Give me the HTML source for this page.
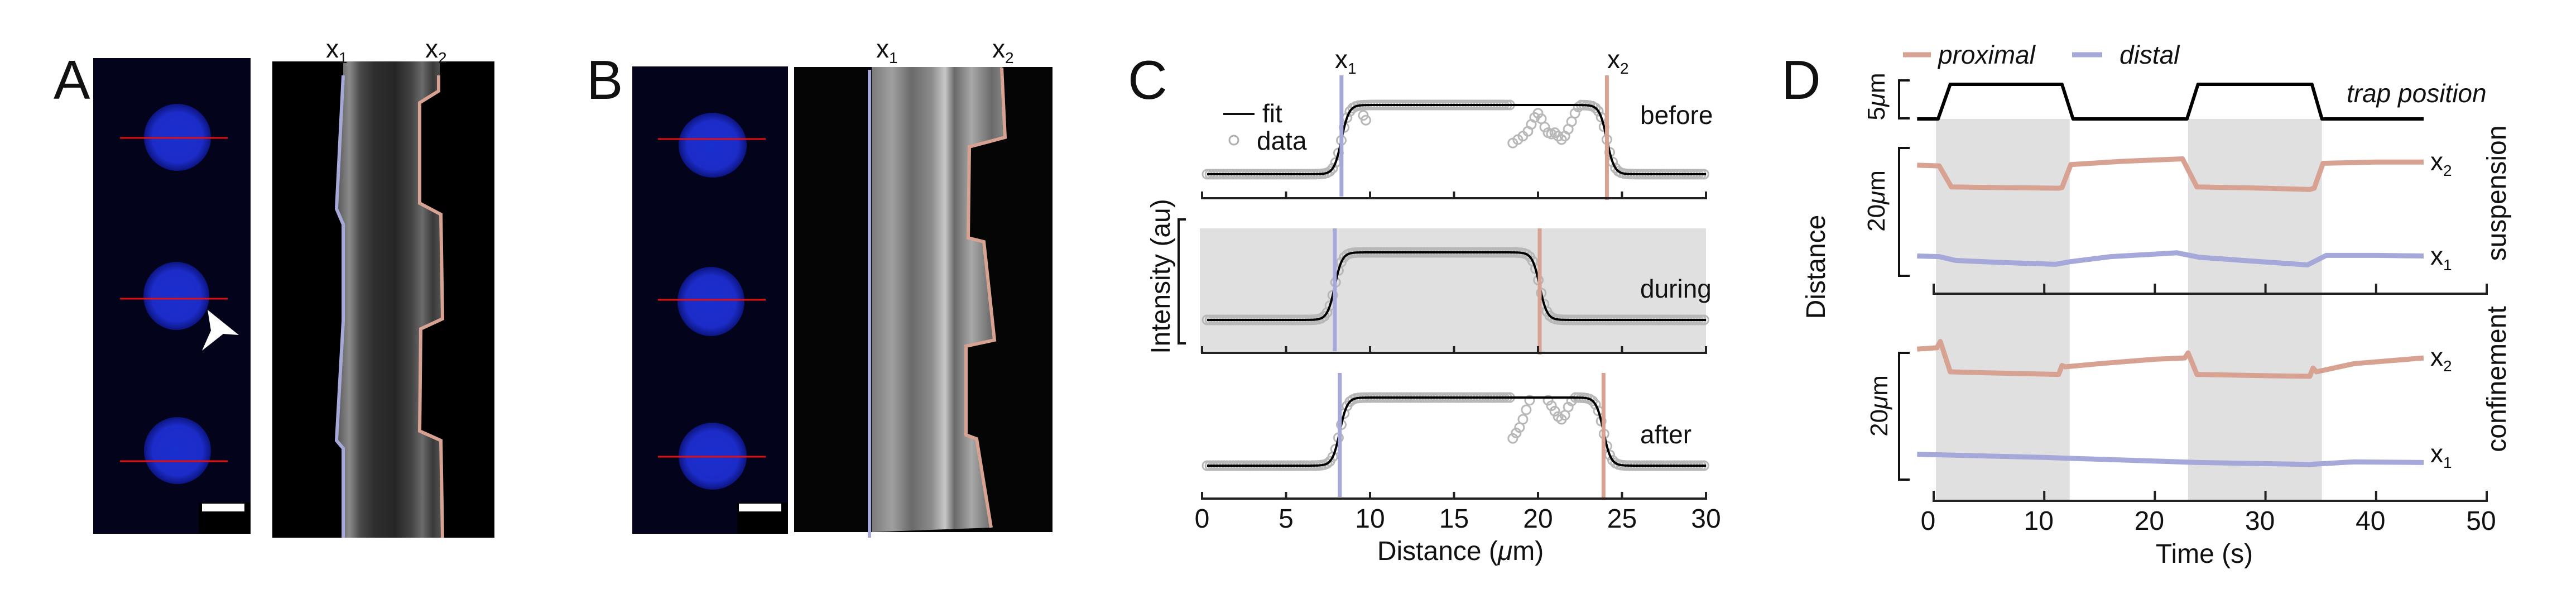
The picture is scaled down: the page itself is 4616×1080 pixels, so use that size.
<!DOCTYPE html>
<html><head><meta charset="utf-8">
<style>
html,body{margin:0;padding:0;background:#fff;}
svg{display:block;}
text{font-family:"Liberation Sans",sans-serif;fill:#111;}
</style></head>
<body>
<svg id="fig" xmlns="http://www.w3.org/2000/svg" width="4616" height="1080" viewBox="0 0 4616 1080">
<defs>
<radialGradient id="nuc" cx="50%" cy="50%" r="50%">
<stop offset="0%" stop-color="#1a2fd0"/><stop offset="75%" stop-color="#1c2cc8"/><stop offset="100%" stop-color="#0c1580"/>
</radialGradient>
<linearGradient id="kymA" x1="0" x2="1" y1="0" y2="0">
<stop offset="0" stop-color="#555"/><stop offset="0.12" stop-color="#8a8a8a"/><stop offset="0.22" stop-color="#4a4a4a"/><stop offset="0.35" stop-color="#2e2e2e"/><stop offset="0.55" stop-color="#262626"/><stop offset="0.7" stop-color="#444"/><stop offset="0.8" stop-color="#6a6a6a"/><stop offset="0.9" stop-color="#3a3a3a"/><stop offset="1" stop-color="#5a5a5a"/>
</linearGradient>
<linearGradient id="kymB" x1="0" x2="1" y1="0" y2="0">
<stop offset="0" stop-color="#7a7a7a"/><stop offset="0.15" stop-color="#a0a0a0"/><stop offset="0.3" stop-color="#6a6a6a"/><stop offset="0.45" stop-color="#8c8c8c"/><stop offset="0.55" stop-color="#c8c8c8"/><stop offset="0.62" stop-color="#6a6a6a"/><stop offset="0.75" stop-color="#a8a8a8"/><stop offset="0.9" stop-color="#6a6a6a"/><stop offset="1" stop-color="#888"/>
</linearGradient>
</defs>

<!-- Panel A -->
<g>
<text x="96" y="177" font-size="98">A</text>
<rect x="167" y="104" width="282" height="852" fill="#03031c"/>
<ellipse cx="318" cy="246" rx="60" ry="60" fill="url(#nuc)"/>
<ellipse cx="316" cy="530" rx="59" ry="61" fill="url(#nuc)"/>
<ellipse cx="318" cy="807" rx="60" ry="60" fill="url(#nuc)"/>
<line x1="215" y1="247" x2="408" y2="247" stroke="#e01010" stroke-width="3"/>
<line x1="215" y1="535" x2="408" y2="535" stroke="#e01010" stroke-width="3"/>
<line x1="215" y1="826" x2="408" y2="826" stroke="#e01010" stroke-width="3"/>
<polygon points="372,555 428,600 400,598 362,628 378,592" fill="#fff"/>
<rect x="356" y="900" width="93" height="56" fill="#000"/>
<rect x="362" y="902" width="76" height="14" fill="#fff"/>
<rect x="488" y="110" width="398" height="853" fill="#000"/>
<polygon points="615,110 788,110 788,163 754,184 754,364 792,384 795,571 756,589 754,772 792,789 795,963 615,963 615,803 603,789 615,575 615,402 603,374 615,135" fill="url(#kymA)"/>
<polyline points="615,135 603,374 615,402 615,575 603,789 615,803 615,963" fill="none" stroke="#a5a8d9" stroke-width="6"/>
<polyline points="786,135 786,163 752,184 752,364 790,384 793,571 754,589 752,772 790,789 793,963" fill="none" stroke="#d8a293" stroke-width="6"/>
<text x="584" y="103" font-size="46">x<tspan font-size="28" dy="10">1</tspan></text>
<text x="762" y="103" font-size="46">x<tspan font-size="28" dy="10">2</tspan></text>
</g>

<!-- Panel B -->
<g>
<text x="1051" y="177" font-size="98">B</text>
<rect x="1133" y="119" width="279" height="837" fill="#03031c"/>
<ellipse cx="1277" cy="260" rx="61" ry="58" fill="url(#nuc)"/>
<ellipse cx="1274" cy="540" rx="60" ry="62" fill="url(#nuc)"/>
<ellipse cx="1277" cy="817" rx="61" ry="60" fill="url(#nuc)"/>
<line x1="1179" y1="249" x2="1372" y2="249" stroke="#e01010" stroke-width="3"/>
<line x1="1179" y1="537" x2="1372" y2="537" stroke="#e01010" stroke-width="3"/>
<line x1="1179" y1="818" x2="1372" y2="818" stroke="#e01010" stroke-width="3"/>
<rect x="1321" y="900" width="91" height="56" fill="#000"/>
<rect x="1324" y="902" width="76" height="14" fill="#fff"/>
<rect x="1423" y="120" width="463" height="833" fill="#050505"/>
<polygon points="1562,120 1795,120 1801,246 1737,263 1735,426 1763,433 1782,609 1731,620 1731,779 1750,786 1776,945 1562,953" fill="url(#kymB)"/>
<line x1="1558" y1="125" x2="1558" y2="963" stroke="#a5a8d9" stroke-width="6"/>
<polyline points="1795,121 1801,246 1737,263 1735,426 1763,433 1782,609 1731,620 1731,779 1750,786 1776,945" fill="none" stroke="#d8a293" stroke-width="6"/>
<text x="1570" y="103" font-size="46">x<tspan font-size="28" dy="10">1</tspan></text>
<text x="1778" y="103" font-size="46">x<tspan font-size="28" dy="10">2</tspan></text>
</g>

<!-- Panel C -->
<g id="panelC">
<text x="2021" y="177" font-size="98">C</text>
<rect x="2150" y="409" width="907" height="223" fill="#e0e0e0"/>
<text transform="translate(2096,495) rotate(-90)" text-anchor="middle" font-size="48">Intensity (au)</text>
<path d="M2125,393 H2112 V615 H2125" fill="none" stroke="#111" stroke-width="4"/>
<text x="2617" y="1003" text-anchor="middle" font-size="48">Distance (<tspan font-style="italic">μ</tspan>m)</text>
<line x1="2192" y1="204" x2="2248" y2="204" stroke="#111" stroke-width="4"/>
<text x="2262" y="219" font-size="46">fit</text>
<circle cx="2211" cy="251" r="8" fill="none" stroke="#b0b0b0" stroke-width="3"/>
<text x="2252" y="268" font-size="46">data</text>
<text x="2939" y="222" font-size="46">before</text>
<text x="2939" y="533" font-size="46">during</text>
<text x="2939" y="794" font-size="46">after</text>
<text x="2392" y="122" font-size="46">x<tspan font-size="28" dy="10">1</tspan></text>
<text x="2880" y="122" font-size="46">x<tspan font-size="28" dy="10">2</tspan></text>
</g>

<!-- Panel D -->
<g id="panelD">
<text x="3192" y="177" font-size="98">D</text>
<text transform="translate(3270,478) rotate(-90)" text-anchor="middle" font-size="48">Distance</text>
<line x1="3410" y1="98" x2="3460" y2="98" stroke="#d8a293" stroke-width="9"/>
<text x="3473" y="114" font-size="46" font-style="italic">proximal</text>
<line x1="3713" y1="98" x2="3767" y2="98" stroke="#a5a8d9" stroke-width="9"/>
<text x="3798" y="114" font-size="46" font-style="italic">distal</text>
<text x="4205" y="183" font-size="46" font-style="italic">trap position</text>
<path d="M3422,144 H3403 V212 H3422" fill="none" stroke="#111" stroke-width="4"/>
<text transform="translate(3377,173) rotate(-90)" text-anchor="middle" font-size="44">5<tspan font-style="italic">μ</tspan>m</text>
<path d="M3422,265 H3403 V494 H3422" fill="none" stroke="#111" stroke-width="4"/>
<text transform="translate(3377,360) rotate(-90)" text-anchor="middle" font-size="44">20<tspan font-style="italic">μ</tspan>m</text>
<path d="M3422,632 H3403 V859 H3422" fill="none" stroke="#111" stroke-width="4"/>
<text transform="translate(3382,727) rotate(-90)" text-anchor="middle" font-size="44">20<tspan font-style="italic">μ</tspan>m</text>
<text transform="translate(4490,346) rotate(-90)" text-anchor="middle" font-size="48">suspension</text>
<text transform="translate(4490,679) rotate(-90)" text-anchor="middle" font-size="48">confinement</text>
<text x="4355" y="305" font-size="46">x<tspan font-size="28" dy="10">2</tspan></text>
<text x="4355" y="474" font-size="46">x<tspan font-size="28" dy="10">1</tspan></text>
<text x="4355" y="655" font-size="46">x<tspan font-size="28" dy="10">2</tspan></text>
<text x="4355" y="828" font-size="46">x<tspan font-size="28" dy="10">1</tspan></text>
<text x="3950" y="1008" text-anchor="middle" font-size="48">Time (s)</text>
</g>
</svg>
<script>
// ---------- Panel C data ----------
const cTicks = [0, 5, 10, 15, 20, 25, 30];
const cX1 = [8.3, 7.9, 8.2];
const cX2 = [24.1, 20.1, 23.9];
const cLabels = ['before', 'during', 'after'];
const cDip1 = [[18.5,0.45],[18.8,0.5],[19.1,0.55],[19.4,0.62],[19.6,0.72],[19.8,0.82],[20.0,0.88],[20.2,0.8],[20.4,0.68],[20.6,0.6],[20.8,0.58],[21.0,0.6],[21.2,0.55],[21.4,0.5],[21.6,0.55],[21.8,0.65],[22.0,0.76],[22.2,0.88],[22.4,0.97],[9.6,0.85],[9.75,0.78]];
const cDip2 = [];
const cDip3 = [[18.5,0.4],[18.7,0.48],[18.9,0.56],[19.1,0.68],[19.3,0.82],[19.5,0.96],[20.6,0.96],[20.8,0.88],[21.0,0.8],[21.2,0.72],[21.4,0.68],[21.6,0.74],[21.8,0.86],[22.0,0.95]];
const cDips = [cDip1, cDip2, cDip3];
const cGap = [[18.4, 22.5], [99, 99], [18.4, 22.1]];

// ---------- Panel D data ----------
const dTicks = [0, 10, 20, 30, 40, 50];
const dBands = [[0.2, 12.3], [23.0, 35.1]];
const trapT = [-1.5, 0.4, 1.5, 11.6, 12.6, 22.9, 23.9, 34.2, 35.1, 44.3];
const trapV = [0, 0, 5, 5, 0, 0, 5, 5, 0, 0];
const suspX2T = [-1.5, 0.5, 1.6, 6, 11.3, 11.6, 12.4, 17, 22.5, 23.8, 30, 34.0, 34.4, 35.2, 40, 44.3];
const suspX2V = [17.3, 17.2, 13.9, 13.8, 13.7, 13.8, 17.4, 17.9, 18.3, 13.9, 13.7, 13.5, 13.7, 17.6, 17.8, 17.8];
const suspX1T = [-1.5, 0.5, 2, 6, 11, 12.3, 16, 20, 22, 24, 28, 33.8, 35.5, 40, 44.3];
const suspX1V = [3.1, 3.0, 2.4, 2.1, 1.8, 2.2, 3.0, 3.4, 3.6, 2.9, 2.4, 1.7, 3.2, 3.2, 3.1];
const confX2T = [-1.5, 0.3, 0.6, 1.5, 6, 11.3, 11.6, 11.9, 15, 20, 22.7, 23.0, 23.8, 30, 34.0, 34.3, 34.6, 38, 44.3];
const confX2V = [20.6, 20.8, 21.8, 17.0, 16.8, 16.6, 18.0, 17.8, 18.3, 19.0, 19.2, 20.0, 16.6, 16.4, 16.3, 17.6, 17.0, 18.3, 19.2];
const confX1T = [-1.5, 10, 24, 34, 38, 44.3];
const confX1V = [4.0, 3.5, 2.7, 2.4, 2.8, 2.7];

const NS = 'http://www.w3.org/2000/svg';
function mk(parent, tag, attrs) {
  const e = document.createElementNS(NS, tag);
  for (const k in attrs) e.setAttribute(k, attrs[k]);
  parent.appendChild(e);
  return e;
}

// ---------- Draw Panel C ----------
const gC = document.getElementById('panelC');
const cx = v => 2154 + v * 30.1;
const cAxisY = [355, 632, 893];
const cHigh = [188, 452, 712];
const cLow = [312, 573, 834];
const cLineTop = [135, 409, 668];
const sig = z => 1 / (1 + Math.exp(-z));
for (let p = 0; p < 3; p++) {
  const yv = f => cLow[p] + (cHigh[p] - cLow[p]) * f;
  const fitF = v => sig((v - cX1[p]) / 0.22) * sig((cX2[p] - v) / 0.22);
  // data circles
  for (let v = 0.3; v <= 30.01; v += 0.17) {
    if (v > cGap[p][0] && v < cGap[p][1]) continue;
    const c = mk(gC, 'circle', {cx: cx(v), cy: yv(fitF(v)), r: 8, fill: 'none', stroke: '#b8b8b8', 'stroke-width': 3});
    
    
  }
  cDips[p].forEach(d => {
    const c = mk(gC, 'circle', {cx: cx(d[0]), cy: yv(d[1]), r: 8, fill: 'none', stroke: '#b8b8b8', 'stroke-width': 3});
    
    
  });
  // fit line
  let pts = [];
  for (let v = 0.3; v <= 30.001; v += 0.05) pts.push(cx(v).toFixed(1) + ',' + yv(fitF(v)).toFixed(1));
  const fl = mk(gC, 'polyline', {points: pts.join(' '), fill: 'none', stroke: '#000', 'stroke-width': 4});
  
  
  // edge markers
  const l1 = mk(gC, 'line', {x1: cx(cX1[p]), x2: cx(cX1[p]), y1: cLineTop[p], y2: cAxisY[p] - 3, stroke: '#a5a8d9', 'stroke-width': 7});
  
  
  const l2 = mk(gC, 'line', {x1: cx(cX2[p]), x2: cx(cX2[p]), y1: cLineTop[p], y2: cAxisY[p] + 3, stroke: '#d8a293', 'stroke-width': 7});
  
  
  // axis
  const ax = mk(gC, 'line', {x1: cx(0), x2: cx(30), y1: cAxisY[p], y2: cAxisY[p], stroke: '#222', 'stroke-width': 4});
  
  
  cTicks.forEach(t => {
    const tk = mk(gC, 'line', {x1: cx(t), x2: cx(t), y1: cAxisY[p] - 12, y2: cAxisY[p] + 2, stroke: '#222', 'stroke-width': 4});
    
    
  });
}
cTicks.forEach(t => {
  const tl = mk(gC, 'text', {x: cx(t), y: 945, 'text-anchor': 'middle', 'font-size': 48});
  tl.textContent = t;
  
  
});

// ---------- Draw Panel D ----------
const gD = document.getElementById('panelD');
const tx = t => 3465 + t * 19.82;
const firstChild = gD.firstChild;
dBands.forEach(b => {
  const r = document.createElementNS(NS, 'rect');
  r.setAttribute('x', tx(b[0])); r.setAttribute('y', 213);
  r.setAttribute('width', tx(b[1]) - tx(b[0])); r.setAttribute('height', 897 - 213);
  r.setAttribute('fill', '#e0e0e0');
  
  
  gD.insertBefore(r, firstChild);
});
function series(T, V, y0, scale, color, w, name) {
  const pts = T.map((t, i) => tx(t).toFixed(1) + ',' + (y0 - V[i] * scale).toFixed(1));
  const pl = mk(gD, 'polyline', {points: pts.join(' '), fill: 'none', stroke: color, 'stroke-width': w, 'stroke-linejoin': 'round'});
  
  
}
series(trapT, trapV, 213, 12.4, '#000', 6, 'trap-position-line');
series(suspX2T, suspX2V, 494, 11.45, '#d8a293', 9, 'suspension-proximal-x2');
series(suspX1T, suspX1V, 494, 11.45, '#a5a8d9', 9, 'suspension-distal-x1');
series(confX2T, confX2V, 859, 11.35, '#d8a293', 9, 'confinement-proximal-x2');
series(confX1T, confX1V, 859, 11.35, '#a5a8d9', 9, 'confinement-distal-x1');
[[526, 'suspension'], [897, 'confinement']].forEach(a => {
  const ax = mk(gD, 'line', {x1: tx(0), x2: tx(50), y1: a[0], y2: a[0], stroke: '#222', 'stroke-width': 4});
  
  
  dTicks.forEach(t => {
    const tk = mk(gD, 'line', {x1: tx(t), x2: tx(t), y1: a[0] - 18, y2: a[0] + 2, stroke: '#222', 'stroke-width': 4});
    
    
  });
});
dTicks.forEach(t => {
  const tl = mk(gD, 'text', {x: tx(t) - 10, y: 949, 'text-anchor': 'middle', 'font-size': 48});
  tl.textContent = t;
  
  
});
</script>
</body></html>
